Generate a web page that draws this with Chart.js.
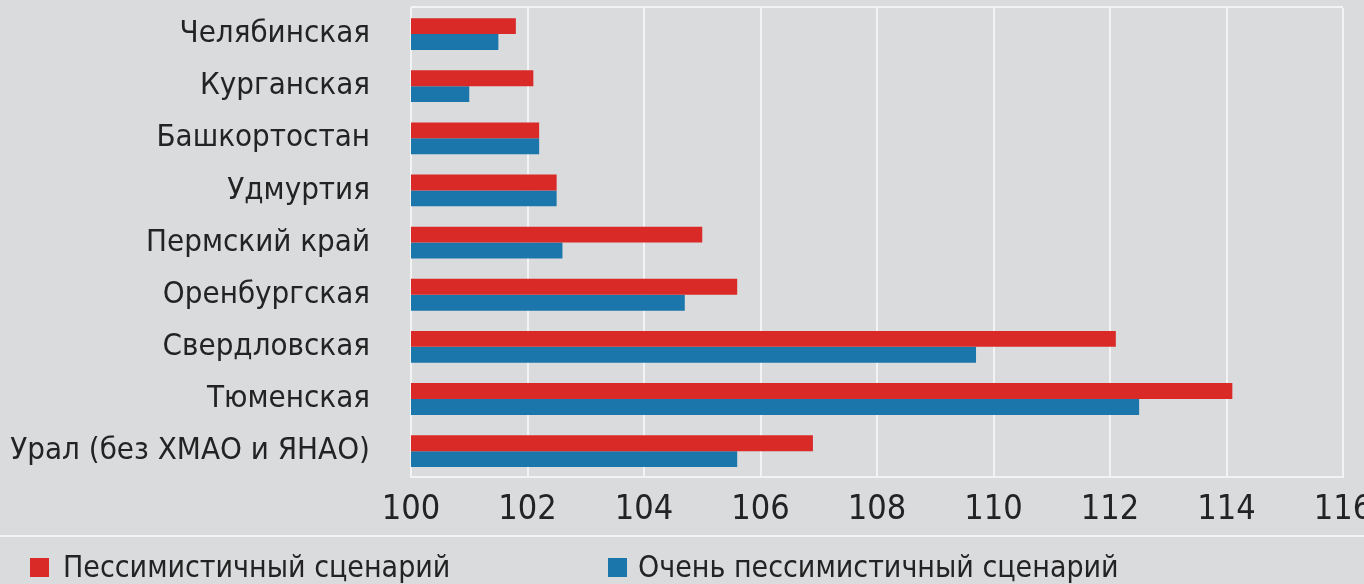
<!DOCTYPE html>
<html>
<head>
<meta charset="utf-8">
<script src="https://cdn.jsdelivr.net/npm/chart.js@4"></script>
<style>
  html, body { margin: 0; padding: 0; background: #dadbdd; }
  #wrap { width: 1364px; height: 584px; position: relative; }
</style>
</head>
<body>
<div id="wrap"><canvas id="chart"></canvas></div>
<script>
// regions, top to bottom
const categories = [
  'Челябинская', 'Курганская', 'Башкортостан', 'Удмуртия', 'Пермский край',
  'Оренбургская', 'Свердловская', 'Тюменская', 'Урал (без ХМАО и ЯНАО)'
];
const pessimistic     = [101.8, 102.1, 102.2, 102.5, 105.0, 105.6, 112.1, 114.1, 106.9];
const veryPessimistic = [101.5, 101.0, 102.2, 102.5, 102.6, 104.7, 109.7, 112.5, 105.6];
const seriesNames = ['Пессимистичный сценарий', 'Очень пессимистичный сценарий'];
const xMin = 100, xMax = 116, xStep = 2;

const FONT = "'Liberation Sans Narrow', 'DejaVu Sans Condensed', sans-serif";
const RED = '#d92a27';
const BLUE = '#1a76ab';
const LINE = '#f3f3f3';
const TEXT = '#232323';

// frame top line, separator and legend drawn on the canvas
const extras = {
  id: 'extras',
  afterDraw(chart) {
    const { ctx, chartArea, width } = chart;
    ctx.save();
    ctx.strokeStyle = LINE;
    ctx.lineWidth = 2;
    ctx.beginPath();
    ctx.moveTo(chartArea.left, chartArea.top - 1);
    ctx.lineTo(chartArea.right, chartArea.top - 1);
    ctx.stroke();
    ctx.beginPath();
    ctx.moveTo(0, 536);
    ctx.lineTo(width, 536);
    ctx.stroke();

    const items = [{ x: 30, tx: 63 }, { x: 608, tx: 638 }];
    ctx.font = '30px ' + FONT;
    ctx.textBaseline = 'alphabetic';
    chart.data.datasets.forEach((ds, i) => {
      ctx.fillStyle = ds.backgroundColor;
      ctx.fillRect(items[i].x, 558, 19, 19);
      ctx.fillStyle = TEXT;
      ctx.fillText(ds.label, items[i].tx, 577);
    });
    ctx.restore();
  }
};

new Chart(document.getElementById('chart'), {
  type: 'bar',
  data: {
    labels: categories,
    datasets: [
      { label: seriesNames[0], data: pessimistic, backgroundColor: RED },
      { label: seriesNames[1], data: veryPessimistic, backgroundColor: BLUE }
    ]
  },
  options: {
    indexAxis: 'y',
    responsive: true,
    maintainAspectRatio: false,
    animation: false,
    categoryPercentage: 0.61,
    barPercentage: 1.0,
    layout: { padding: { top: 8, right: 21, bottom: 40, left: 0 } },
    plugins: {
      legend: { display: false },
      tooltip: { enabled: false }
    },
    scales: {
      x: {
        min: xMin,
        max: xMax,
        ticks: {
          stepSize: xStep,
          padding: 13,
          color: TEXT,
          font: { family: FONT, size: 34 }
        },
        grid: { color: LINE, lineWidth: 2, drawTicks: false },
        border: { display: true, color: LINE, width: 2 },
        afterFit(s) { s.paddingLeft = 0; s.paddingRight = 0; }
      },
      y: {
        ticks: {
          padding: 33,
          color: TEXT,
          font: { family: FONT, size: 31 }
        },
        grid: { display: false },
        border: { display: true, color: LINE, width: 2 },
        afterFit(s) { s.width = 411; s.paddingTop = 0; s.paddingBottom = 0; }
      }
    }
  },
  plugins: [extras]
});
</script>
</body>
</html>
